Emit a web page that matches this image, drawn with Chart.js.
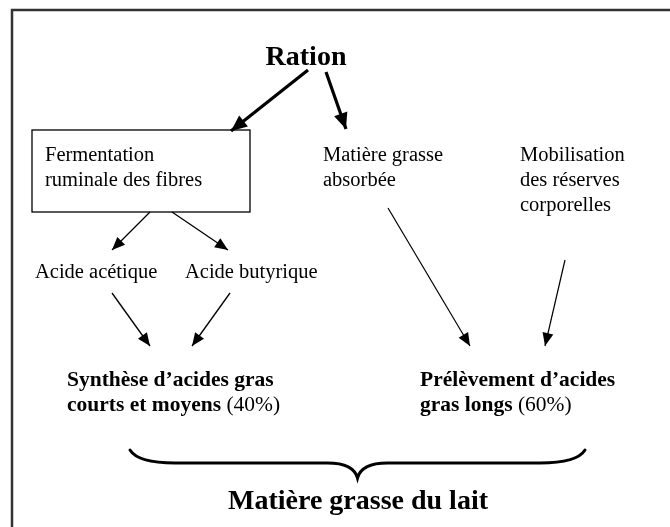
<!DOCTYPE html>
<html><head><meta charset="utf-8">
<script src="https://cdn.jsdelivr.net/npm/chart.js@4"></script>
<style>html,body{margin:0;padding:0;background:#fff}canvas{display:block}</style>
</head><body>
<canvas id="c" width="670" height="527"></canvas>
<script>
// Diagram nodes (text lines), in diagram units (x right, y down)
const nodeLines = [
  [{t:"Ration",b:true}],
  [{t:"Fermentation"}],
  [{t:"ruminale des fibres"}],
  [{t:"Matière grasse"}],
  [{t:"absorbée"}],
  [{t:"Mobilisation"}],
  [{t:"des réserves"}],
  [{t:"corporelles"}],
  [{t:"Acide acétique"}],
  [{t:"Acide butyrique"}],
  [{t:"Synthèse d’acides gras",b:true}],
  [{t:"courts et moyens",b:true},{t:" (40%)"}],
  [{t:"Prélèvement d’acides",b:true}],
  [{t:"gras longs",b:true},{t:" (60%)"}],
  [{t:"Matière grasse du lait",b:true}]
];
const nodeX = [306, 45, 45, 323, 323, 520, 520, 520, 35, 185, 67, 67, 420, 420, 358];
const nodeY = [65, 161, 186, 161, 186, 161, 186, 211, 278, 278, 386, 411, 386, 411, 509];
const nodeSize = [28, 20.5, 20.5, 20.5, 20.5, 20.5, 20.5, 20.5, 20.5, 20.5, 21.5, 21.5, 21.5, 21.5, 28];
const nodeAlign = ["center","left","left","left","left","left","left","left","left","left","left","left","left","left","center"];
// Arrows: start and end points
const arrowFrom = [[308,70],[326,72],[150,212],[172,212],[112,293],[230,293],[388,208],[565,260]];
const arrowTo   = [[231,131],[346,129],[112,250],[228,250],[150,346],[192,346],[470,346],[545,346]];
const arrowWidth = [3.2,3.2,1.3,1.3,1.3,1.3,1.2,1.2];
// Box and brace
const boxCorners = [[32,130],[250,212]];
const brace = {x1:130, x2:585, yTop:450, yMid:463, yTip:478};

const datasets = arrowFrom.map((p,i)=>({
  type:'line',
  data:[{x:p[0],y:p[1]},{x:arrowTo[i][0],y:arrowTo[i][1]}],
  borderColor:'#000', borderWidth:arrowWidth[i], pointRadius:0, fill:false, tension:0
}));

const diagramPlugin = {
  id:'diagram',
  beforeDatasetsDraw(chart){
    const {ctx, scales:{x,y}} = chart;
    ctx.save();
    ctx.strokeStyle='#333'; ctx.lineWidth=2.5;
    ctx.beginPath(); ctx.moveTo(x.getPixelForValue(12), y.getPixelForValue(527)); ctx.lineTo(x.getPixelForValue(12), y.getPixelForValue(10)); ctx.lineTo(x.getPixelForValue(670), y.getPixelForValue(10)); ctx.stroke();
    ctx.strokeStyle='#000'; ctx.lineWidth=1.3;
    const bx1=x.getPixelForValue(boxCorners[0][0]), by1=y.getPixelForValue(boxCorners[0][1]);
    const bx2=x.getPixelForValue(boxCorners[1][0]), by2=y.getPixelForValue(boxCorners[1][1]);
    ctx.strokeRect(bx1,by1,bx2-bx1,by2-by1);
    ctx.restore();
  },
  afterDatasetsDraw(chart){
    const {ctx, scales:{x,y}} = chart;
    ctx.save();
    chart.data.datasets.forEach((ds,i)=>{
      const meta = chart.getDatasetMeta(i);
      const p0 = meta.data[0], p1 = meta.data[1];
      const ang = Math.atan2(p1.y-p0.y, p1.x-p0.x);
      const thick = arrowWidth[i] > 2;
      const L = thick ? 16 : 13, W = thick ? 7 : 5.5;
      ctx.fillStyle='#000';
      ctx.beginPath();
      ctx.moveTo(p1.x, p1.y);
      ctx.lineTo(p1.x - L*Math.cos(ang) + W*Math.sin(ang), p1.y - L*Math.sin(ang) - W*Math.cos(ang));
      ctx.lineTo(p1.x - L*Math.cos(ang) - W*Math.sin(ang), p1.y - L*Math.sin(ang) + W*Math.cos(ang));
      ctx.closePath(); ctx.fill();
    });
    const X1=x.getPixelForValue(brace.x1), X2=x.getPixelForValue(brace.x2), XM=(X1+X2)/2;
    const YT=y.getPixelForValue(brace.yTop), YM=y.getPixelForValue(brace.yMid), YP=y.getPixelForValue(brace.yTip);
    ctx.strokeStyle='#000'; ctx.lineWidth=3; ctx.lineCap='round';
    ctx.beginPath();
    ctx.moveTo(X1,YT);
    ctx.quadraticCurveTo(X1+8,YM,X1+45,YM);
    ctx.lineTo(XM-30,YM);
    ctx.quadraticCurveTo(XM-4,YM,XM,YP);
    ctx.quadraticCurveTo(XM+4,YM,XM+30,YM);
    ctx.lineTo(X2-45,YM);
    ctx.quadraticCurveTo(X2-8,YM,X2,YT);
    ctx.stroke();
    ctx.fillStyle='#000'; ctx.textBaseline='alphabetic';
    nodeLines.forEach((segs,i)=>{
      const size=nodeSize[i];
      const fonts = segs.map(s=>(s.b?'bold ':'')+size+'px "Liberation Serif", "Times New Roman", serif');
      let widths = segs.map((s,k)=>{ctx.font=fonts[k]; return ctx.measureText(s.t).width;});
      const total = widths.reduce((a,b)=>a+b,0);
      let px = x.getPixelForValue(nodeX[i]);
      if(nodeAlign[i]==='center') px -= total/2;
      const py = y.getPixelForValue(nodeY[i]);
      segs.forEach((s,k)=>{ctx.font=fonts[k]; ctx.textAlign='left'; ctx.fillText(s.t,px,py); px+=widths[k];});
    });
    ctx.restore();
  }
};

new Chart(document.getElementById('c'), {
  type:'scatter',
  data:{datasets},
  options:{
    responsive:false, animation:false,
    layout:{padding:0},
    plugins:{legend:{display:false}, tooltip:{enabled:false}},
    scales:{
      x:{type:'linear',min:0,max:670,display:false},
      y:{type:'linear',min:0,max:527,reverse:true,display:false}
    }
  },
  plugins:[diagramPlugin]
});
</script>
</body></html>
